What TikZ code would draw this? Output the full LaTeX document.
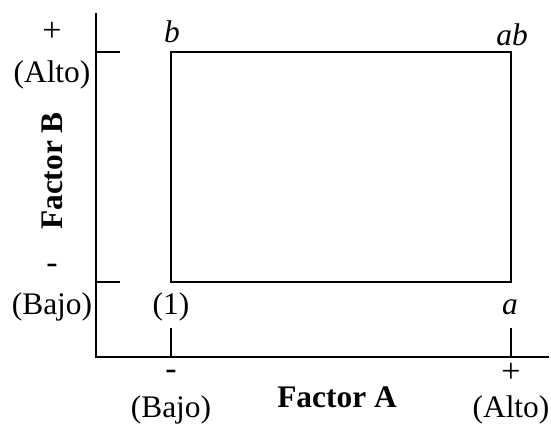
\documentclass[tikz,border=0pt]{standalone}
\usepackage{fontspec}
\setmainfont{Liberation Serif}
\usetikzlibrary{positioning}

\begin{document}
\begin{tikzpicture}[
    x=0.5pt, y=0.5pt,
    axisline/.style={line width=0.8pt, black},
    boxline/.style={line width=0.7pt, black},
    tickline/.style={line width=0.6pt, black},
    lbl/.style={inner sep=0pt, font=\fontsize{15.7}{18}\selectfont},
    sign/.style={inner sep=0pt, font=\fontsize{17}{18}\selectfont},
    corner/.style={inner sep=0pt, font=\fontsize{15.7}{18}\selectfont\itshape},
    axtitle/.style={inner sep=0pt, font=\fontsize{15.7}{18}\selectfont\bfseries}
]
\useasboundingbox (0,0) rectangle (551,426);

% ==================== AXES ====================
\coordinate (O) at (96,69);
\coordinate (ytop) at (96,413);
\coordinate (xend) at (549,69);
\draw[axisline] (ytop) -- (O) -- (xend);

% ticks on the B axis
\coordinate (bhi) at (96,374);
\coordinate (bhiend) at (120,374);
\coordinate (blo) at (96,144);
\coordinate (bloend) at (120,144);
\draw[tickline] (bhi) -- (bhiend);
\draw[tickline] (blo) -- (bloend);

% ticks on the A axis
\coordinate (alo) at (171,69);
\coordinate (aloend) at (171,98);
\coordinate (ahi) at (511,69);
\coordinate (ahiend) at (511,98);
\draw[tickline] (alo) -- (aloend);
\draw[tickline] (ahi) -- (ahiend);

% ==================== DESIGN SQUARE ====================
\coordinate (c1) at (171,144);
\coordinate (ca) at (511,144);
\coordinate (cab) at (511,374);
\coordinate (cb) at (171,374);
\draw[boxline] (c1) -- (ca) -- (cab) -- (cb) -- cycle;

\node[corner] (lb) at (172,394) {b};
\node[corner] (lab) at (512,391) {ab};
\node[lbl] (l1) at (171,119) {(1)};
\node[corner] (la) at (510,119) {a};

% ==================== FACTOR B LABELS ====================
\node[sign] (bplus) at (52,394) {+};
\node[lbl] (balto) at (52,351) {(Alto)};
\node[axtitle, rotate=90] (fb) at (52,255) {Factor B};
\node[sign] (bminus) at (52,157) {-};
\node[lbl] (bbajo) at (52,119) {(Bajo)};

% ==================== FACTOR A LABELS ====================
\node[sign] (aminus) at (171,51) {-};
\node[lbl] (abajo) at (171,16) {(Bajo)};
\node[axtitle] (fa) at (337,29) {Factor A};
\node[sign] (aplus) at (511,53) {+};
\node[lbl] (aalto) at (511,16) {(Alto)};

\end{tikzpicture}
\end{document}
